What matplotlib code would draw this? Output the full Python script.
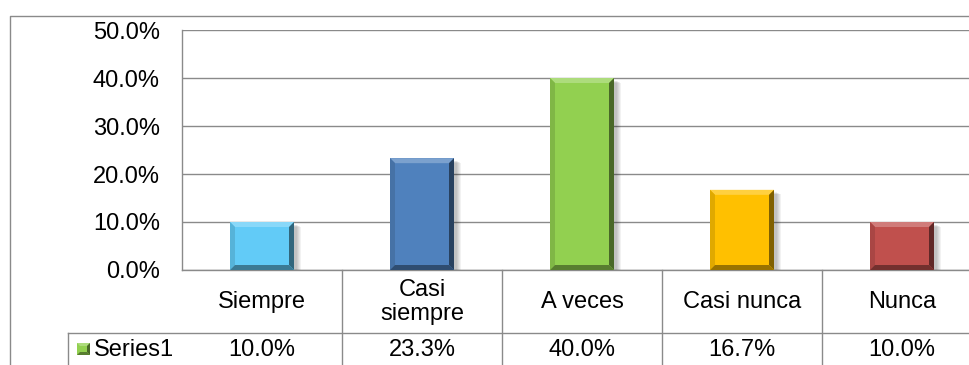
import numpy as np
import matplotlib.pyplot as plt
from matplotlib import transforms
from matplotlib.patches import Polygon, Rectangle
from matplotlib.colors import to_rgb

plt.rcParams['font.family'] = ['Liberation Sans', 'DejaVu Sans']

categories = ["Siempre", "Casi\nsiempre", "A veces", "Casi nunca", "Nunca"]
values = [10.0, 23.3, 40.0, 16.7, 10.0]
bar_colors = ["#62CBF7", "#4F81BD", "#92D050", "#FFC000", "#C0504D"]
series_name = "Series1"
y_ticks = [0, 10, 20, 30, 40, 50]

W, H, DPI = 969, 365, 100
GRID = "#8a8a8a"
FS = 17


def shade(c, t):
    # t > 0 lightens towards white, t < 0 darkens towards black
    r = np.array(to_rgb(c))
    return tuple(r + (1 - r) * t) if t > 0 else tuple(r * (1 + t))


fig = plt.figure(figsize=(W / DPI, H / DPI), dpi=DPI)

# pixel overlay for frame and table lines
ov = fig.add_axes([0, 0, 1, 1], zorder=0)
ov.set_xlim(0, W)
ov.set_ylim(H, 0)
ov.axis("off")

# plot area: left 182px, top 30px, 0% at 270px, 160px per category
left, top, base, cat_w = 182, 30, 270, 160
ax = fig.add_axes([left / W, (H - base) / H, 5 * cat_w / W, (base - top) / H], zorder=1)
ax.patch.set_alpha(0)
x = np.arange(len(categories))
ax.set_xlim(-0.5, len(categories) - 0.5)
ax.set_ylim(0, 50)
ax.set_yticks(y_ticks)
ax.set_yticklabels([f"{v:.1f}%" for v in y_ticks], fontsize=FS)
ax.tick_params(axis="y", length=0, pad=16)
ax.set_xticks([])
ax.grid(axis="y", color=GRID, lw=1.0, zorder=0)
ax.set_axisbelow(True)
for s in ["top", "right", "bottom"]:
    ax.spines[s].set_visible(False)
ax.spines["left"].set_color(GRID)
ax.spines["left"].set_linewidth(1.0)

bars = ax.bar(x, values, width=0.4, color=bar_colors, linewidth=0, zorder=3)

# bevel size in data units
p0 = ax.transData.transform((0, 0))
p1 = ax.transData.transform((1, 10))
bx = 5 / (p1[0] - p0[0])
by = 5 * 10 / (p1[1] - p0[1])
sx = 1 / (p1[0] - p0[0])
sy = 10 / (p1[1] - p0[1])

for b, c in zip(bars, bar_colors):
    x0, w, h = b.get_x(), b.get_width(), b.get_height()
    x1 = x0 + w
    # soft shadow to the right
    for k in range(1, 6):
        ax.add_patch(Rectangle((x0 + 2 * sx, 0), w + k * sx, h - (2 + k * 0.5) * sy,
                               color="black", alpha=0.05, lw=0, zorder=2))
    faces = [
        ([(x0, h), (x1, h), (x1 - bx, h - by), (x0 + bx, h - by)], shade(c, 0.25)),
        ([(x0, 0), (x0, h), (x0 + bx, h - by), (x0 + bx, by)], shade(c, -0.12)),
        ([(x1, 0), (x1, h), (x1 - bx, h - by), (x1 - bx, by)], shade(c, -0.5)),
        ([(x0, 0), (x1, 0), (x1 - bx, by), (x0 + bx, by)], shade(c, -0.4)),
    ]
    for pts, fc in faces:
        ax.add_patch(Polygon(pts, closed=True, fc=fc, ec="none", zorder=4))

# outer chart frame
ov.plot([10, 10, W + 5], [H + 5, 16, 16], color=GRID, lw=1.0)

# data table lines
row1, row2 = 333, 400
ov.plot([left, left + 5 * cat_w], [base, base], color=GRID, lw=1.0)
ov.plot([68, left + 5 * cat_w], [row1, row1], color=GRID, lw=1.0)
ov.plot([68, 68], [row1, row2], color=GRID, lw=1.0)
for i in range(1, len(categories) + 1):
    xv = left + i * cat_w
    ov.plot([xv, xv], [base, row2], color=GRID, lw=1.0)

# table text placed by category through the bar axis x scale
tr = transforms.blended_transform_factory(ax.transData, ov.transData)
for i, (cat, v) in enumerate(zip(categories, values)):
    ax.text(i, 302, cat, transform=tr, ha="center", va="center", fontsize=FS,
            linespacing=1.1, clip_on=False)
    ax.text(i, 350, f"{v:.1f}%", transform=tr, ha="center", va="center",
            fontsize=FS, clip_on=False)

# legend key in the table
g = bar_colors[2]
ov.add_patch(Rectangle((77, 343), 13, 12, fc=g, ec="none"))
ov.add_patch(Polygon([(77, 343), (90, 343), (87, 346), (80, 346)], fc=shade(g, 0.25), ec="none"))
ov.add_patch(Polygon([(90, 343), (90, 355), (87, 352), (87, 346)], fc=shade(g, -0.5), ec="none"))
ov.add_patch(Polygon([(77, 355), (90, 355), (87, 352), (80, 352)], fc=shade(g, -0.4), ec="none"))
ov.text(94, 350, series_name, ha="left", va="center", fontsize=FS)

fig.savefig("out.png", dpi=DPI)
